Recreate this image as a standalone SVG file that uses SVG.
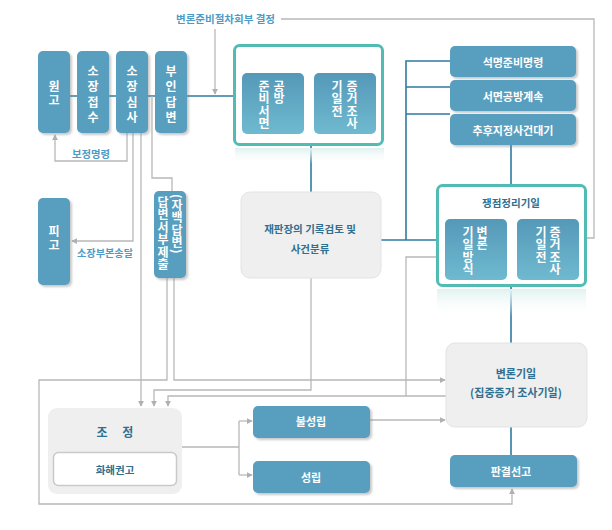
<svg xmlns="http://www.w3.org/2000/svg" width="612" height="530" viewBox="0 0 612 530">
<style>
text{font-family:"Noto Sans CJK KR","Noto Sans",sans-serif;dominant-baseline:central;text-anchor:middle}
.v{writing-mode:vertical-rl;text-anchor:start}
.bb{fill:#589ebe}
.wt{fill:#ffffff;font-weight:bold;font-size:12px}
.wt11{fill:#ffffff;font-weight:bold;font-size:11px}
.dk{fill:#2f6f8f;font-weight:bold;font-size:10.5px}
.lb{fill:#4b9bc6;font-weight:bold;font-size:10.5px;text-anchor:start}
.gbox{fill:#efefef;stroke:#e3e3e3;stroke-width:1}
.teal{fill:#ffffff;stroke:#52bcb4;stroke-width:3}
.cd{fill:none;stroke:#2f7ba1;stroke-width:1.6}
.cg{fill:none;stroke:#b8b8b8;stroke-width:1.3}
.ca{fill:none;stroke:#b8b8b8;stroke-width:1.3;marker-end:url(#ah)}
</style>
<defs>
<marker id="ah" viewBox="0 0 8 8" refX="7" refY="4" markerWidth="6" markerHeight="6" markerUnits="userSpaceOnUse" orient="auto">
<path d="M0,0 L8,4 L0,8 z" fill="#b0b0b0"/>
</marker>
<linearGradient id="ig" x1="0" y1="0" x2="0" y2="1">
<stop offset="0" stop-color="#5598b8"/>
<stop offset="1" stop-color="#6fbad0"/>
</linearGradient>
<linearGradient id="rf" x1="0" y1="0" x2="0" y2="1">
<stop offset="0" stop-color="#dff2f0"/>
<stop offset="1" stop-color="#ffffff" stop-opacity="0"/>
</linearGradient>
<filter id="sh" x="-10%" y="-10%" width="130%" height="130%">
<feDropShadow dx="2" dy="2" stdDeviation="1.2" flood-color="#888888" flood-opacity="0.45"/>
</filter>
</defs>
<rect width="612" height="530" fill="#ffffff"/>

<g id="connectors">
<path class="cg" d="M281,19 H594 V238 H587"/>
<path class="ca" d="M215,29 V94"/>
<path class="cd" d="M70,96 H234"/>
<path class="cd" d="M311,146 V192"/>
<path class="cd" d="M381,240 H437"/>
<path class="cd" d="M406,240 V61 H450 M406,87 H450 M406,114 H450"/>
<path class="cd" d="M511,145 V185 M511,286 V343 M511,427 V455"/>
<path class="ca" d="M127,133 V161 H55 V135"/>
<path class="ca" d="M133,133 V241 H72"/>
<path class="ca" d="M141,133 V406"/>
<path class="cg" d="M152,96 V178 H172 V191"/>
<path class="ca" d="M167,278 V380 H39 V504 H512 V489"/>
<path class="ca" d="M174,278 V380 H445"/>
<path class="ca" d="M311,278 V390 H154 V406"/>
<path class="cg" d="M437,257 H406 V396"/>
<path class="ca" d="M446,396 H168 V406"/>
<path class="cg" d="M182,447 H239 M239,421 V475"/>
<path class="ca" d="M239,421 H252"/>
<path class="ca" d="M239,475 H252"/>
<path class="ca" d="M370,420 H445"/>
</g>

<g id="labels">
<text class="lb" x="176" y="18" textLength="99" lengthAdjust="spacingAndGlyphs">변론준비절차회부 결정</text>
<text class="lb" x="72" y="153" textLength="38" lengthAdjust="spacingAndGlyphs">보정명령</text>
<text class="lb" x="77" y="252" textLength="56" lengthAdjust="spacingAndGlyphs">소장부본송달</text>
</g>

<g id="n-wongo">
<rect class="bb" x="38" y="51" width="32" height="82" rx="5" filter="url(#sh)"/>
<text class="wt v" x="54" y="80" letter-spacing="2">원고</text>
</g>
<g id="n-sojangjeopsu">
<rect class="bb" x="77" y="51" width="32" height="82" rx="5" filter="url(#sh)"/>
<text class="wt v" x="93" y="65" letter-spacing="3.5">소장접수</text>
</g>
<g id="n-sojangsimsa">
<rect class="bb" x="116" y="51" width="32" height="82" rx="5" filter="url(#sh)"/>
<text class="wt v" x="132" y="65" letter-spacing="3.5">소장심사</text>
</g>
<g id="n-buindapbyeon">
<rect class="bb" x="155" y="51" width="32" height="82" rx="5" filter="url(#sh)"/>
<text class="wt v" x="171" y="65" letter-spacing="3.5">부인답변</text>
</g>

<g id="n-prep">
<rect x="235" y="148" width="149" height="16" fill="url(#rf)"/>
<rect class="teal" x="234.5" y="45.5" width="148" height="99" rx="5"/>
<rect x="242" y="73" width="62" height="61" rx="5" fill="url(#ig)"/>
<text class="wt v" x="279" y="80" letter-spacing="0.5">공방</text>
<text class="wt v" x="264" y="80" letter-spacing="0.5">준비서면</text>
<rect x="314" y="73" width="62" height="61" rx="5" fill="url(#ig)"/>
<text class="wt v" x="352" y="80" letter-spacing="0.5">증거조사</text>
<text class="wt v" x="337" y="80" letter-spacing="0.5">기일전</text>
</g>

<g id="n-seokmyeong">
<rect class="bb" x="450" y="46" width="126" height="31" rx="5" filter="url(#sh)"/>
<text class="wt11" x="513" y="61.5">석명준비명령</text>
</g>
<g id="n-seomyeon">
<rect class="bb" x="450" y="80" width="126" height="31" rx="5" filter="url(#sh)"/>
<text class="wt11" x="513" y="95.5">서면공방계속</text>
</g>
<g id="n-chuhu">
<rect class="bb" x="450" y="114" width="126" height="31" rx="5" filter="url(#sh)"/>
<text class="wt11" x="513" y="129.5">추후지정사건대기</text>
</g>

<g id="n-pido">
<rect class="bb" x="38" y="198" width="32" height="87" rx="5" filter="url(#sh)"/>
<text class="wt v" x="54" y="225" letter-spacing="2.5">피고</text>
</g>

<g id="n-dapbyeonseo">
<rect class="bb" x="154" y="191" width="32" height="87" rx="5" filter="url(#sh)"/>
<text class="wt v" x="177" y="194" letter-spacing="0.5">(자백답변)</text>
<text class="wt v" x="163" y="196" letter-spacing="0.5">답변서부제출</text>
</g>

<g id="n-jaepanjang">
<rect class="gbox" x="241" y="192" width="140" height="86" rx="9"/>
<text class="dk" x="310" y="228">재판장의 기록검토 및</text>
<text class="dk" x="310" y="248">사건분류</text>
</g>

<g id="n-jaengjeom">
<rect x="437" y="289" width="149" height="28" fill="url(#rf)"/>
<rect class="teal" x="437.5" y="185.5" width="148" height="100" rx="5"/>
<text class="dk" x="511" y="202">쟁점정리기일</text>
<rect x="445" y="219" width="62" height="61" rx="5" fill="url(#ig)"/>
<text class="wt v" x="482" y="226" letter-spacing="0.5">변론</text>
<text class="wt v" x="468" y="226" letter-spacing="0.5">기일방식</text>
<rect x="517" y="219" width="62" height="61" rx="5" fill="url(#ig)"/>
<text class="wt v" x="555" y="226" letter-spacing="0.5">증거조사</text>
<text class="wt v" x="541" y="226" letter-spacing="0.5">기일전</text>
</g>

<g id="n-byeollon">
<rect class="gbox" x="446" y="343" width="141" height="84" rx="9"/>
<text class="dk" x="516" y="373" style="font-size:11px">변론기일</text>
<text class="dk" x="516" y="392" style="font-size:11px">(집중증거 조사기일)</text>
</g>

<g id="n-pangyeol">
<rect class="bb" x="450" y="455" width="127" height="32" rx="5" filter="url(#sh)"/>
<text class="wt11" x="511" y="470.5">판결선고</text>
</g>

<g id="n-jojeong">
<rect x="48" y="408" width="134" height="86" rx="9" fill="#efefef"/>
<text class="dk" x="115" y="431" style="font-size:12px">조　 정</text>
<rect x="53.5" y="452.5" width="123" height="33" rx="5" fill="#ffffff" stroke="#c9c9c9" stroke-width="1.5"/>
<text class="dk" x="115" y="469">화해권고</text>
</g>

<g id="n-bulseongrip">
<rect class="bb" x="253" y="406" width="117" height="32" rx="5" filter="url(#sh)"/>
<text class="wt11" x="311" y="421">불성립</text>
</g>
<g id="n-seongrip">
<rect class="bb" x="253" y="461" width="117" height="32" rx="5" filter="url(#sh)"/>
<text class="wt11" x="311" y="476.5">성립</text>
</g>
</svg>
